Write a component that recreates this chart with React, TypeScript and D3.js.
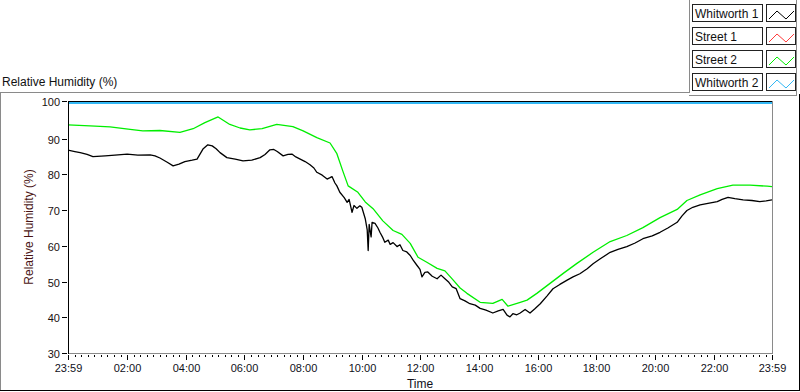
import React, { useEffect, useRef } from 'react';
import * as d3 from 'd3';

// minutes after midnight, -1 = 23:59 of the previous day
const street2Times = [-1, 44, 85, 126, 152, 187, 228, 255, 279, 306, 330, 351, 371, 396, 426, 459, 480, 508, 535, 549, 561, 572, 592, 607, 623, 643, 664, 682, 699, 715, 733, 754, 770, 787, 801, 815, 842, 868, 887, 899, 924, 938, 958, 985, 1012, 1040, 1073, 1108, 1142, 1175, 1210, 1245, 1265, 1292, 1327, 1359, 1394, 1429, 1439];
const street2Values = [93.9, 93.6, 93.3, 92.6, 92.2, 92.3, 91.8, 92.8, 94.5, 96.1, 94.0, 93.0, 92.5, 92.8, 94.0, 93.4, 92.2, 90.3, 88.8, 85.8, 81.0, 76.8, 75.0, 72.3, 70.4, 67.0, 64.3, 63.2, 60.7, 56.8, 55.4, 53.7, 53.0, 50.4, 48.2, 46.7, 44.2, 43.9, 45.0, 43.1, 44.2, 44.8, 46.7, 49.5, 52.3, 55.1, 58.2, 61.2, 62.9, 65.1, 67.9, 70.2, 72.7, 74.3, 76.0, 77.0, 77.0, 76.7, 76.6];

const whitworth1Times = [-1, 13, 24, 38, 50, 75, 95, 120, 142, 167, 177, 187, 202, 214, 226, 238, 253, 263, 275, 285, 294, 302, 310, 324, 341, 357, 375, 392, 402, 412, 420, 427, 439, 449, 457, 465, 474, 484, 494, 502, 508, 519, 529, 535, 539, 545, 549, 555, 564, 570, 574, 580, 584, 590, 596, 600, 607, 611, 613, 615, 619, 621, 627, 633, 637, 643, 647, 654, 658, 664, 672, 678, 684, 692, 699, 705, 713, 719, 723, 729, 735, 744, 754, 762, 770, 778, 785, 793, 801, 811, 821, 832, 842, 854, 868, 879, 889, 897, 903, 909, 917, 924, 934, 944, 954, 965, 979, 991, 1005, 1020, 1032, 1046, 1061, 1073, 1087, 1108, 1124, 1142, 1159, 1175, 1194, 1210, 1226, 1245, 1255, 1265, 1277, 1292, 1308, 1327, 1337, 1349, 1363, 1380, 1398, 1414, 1427, 1439];
const whitworth1Values = [86.8, 86.4, 86.1, 85.6, 85.0, 85.2, 85.4, 85.7, 85.4, 85.5, 85.2, 84.6, 83.4, 82.4, 82.9, 83.6, 84.0, 84.3, 87.1, 88.3, 88.0, 87.2, 86.1, 84.7, 84.3, 83.8, 84.0, 84.7, 85.6, 86.9, 87.0, 86.4, 85.2, 85.6, 85.7, 84.9, 84.3, 83.6, 82.7, 81.8, 80.6, 79.8, 78.7, 79.1, 79.4, 77.6, 76.8, 75.0, 73.5, 72.2, 73.0, 69.4, 71.3, 70.5, 71.2, 70.8, 67.6, 64.5, 58.7, 66.0, 62.5, 66.6, 66.3, 65.0, 63.8, 62.3, 61.0, 61.6, 60.4, 60.9, 59.8, 60.3, 58.7, 58.3, 57.3, 56.0, 54.5, 53.4, 51.3, 52.6, 52.7, 51.5, 50.8, 51.8, 50.8, 49.8, 48.5, 48.0, 45.2, 44.6, 43.8, 43.4, 42.5, 42.0, 41.2, 41.8, 42.2, 40.6, 40.1, 41.0, 40.7, 41.2, 42.2, 41.2, 42.4, 43.8, 46.0, 48.0, 49.2, 50.4, 51.3, 52.2, 53.6, 55.0, 56.3, 58.2, 59.0, 59.8, 60.8, 62.0, 62.8, 63.8, 65.0, 66.6, 68.4, 69.9, 70.8, 71.5, 71.9, 72.4, 73.0, 73.6, 73.2, 72.9, 72.7, 72.4, 72.6, 72.9];

// Whitworth 2 sits on the top edge of the plot
const whitworth2Times = [-1, 1439];
const whitworth2Values = [100, 100];

const legendNames = ['Whitworth 1', 'Street 1', 'Street 2', 'Whitworth 2'];
const legendColors = ['#000000', '#ff3b3b', '#00ee00', '#33b8f5'];

const majorTicks = [-1, 120, 240, 360, 480, 600, 720, 840, 960, 1080, 1200, 1320, 1439];
const yTicks = [30, 40, 50, 60, 70, 80, 90, 100];

const FONT = '"Liberation Sans", Arial, sans-serif';

const fmtTime = (m: number) => {
  if (m < 0) return '23:59';
  const h = Math.floor(m / 60);
  const mm = m % 60;
  return `${String(h).padStart(2, '0')}:${String(mm).padStart(2, '0')}`;
};

export default function App() {
  const svgRef = useRef<SVGSVGElement>(null);

  useEffect(() => {
    document.body.style.margin = '0';
    if (!svgRef.current) return;
    const svg = d3.select(svgRef.current);
    svg.selectAll('*').remove();

    const plot = { left: 68, right: 772, top: 101, bottom: 353 };

    const x = d3.scaleLinear().domain([-1, 1439]).range([plot.left, plot.right]);
    const y = d3.scaleLinear().domain([30, 100]).range([plot.bottom, plot.top + 2]);

    // panel frames
    const frame = svg.append('g').attr('fill', 'none').attr('shape-rendering', 'crispEdges');
    frame.append('path').attr('d', 'M0.5,391V92.5H689.5V0').attr('stroke', '#8a8a8a');
    frame.append('path').attr('d', 'M689,95.5H796.5V0').attr('stroke', '#8a8a8a');
    frame.append('path').attr('d', 'M0,390.5H799.5V94').attr('stroke', '#000');

    // title
    svg.append('text')
      .attr('x', 2).attr('y', 86)
      .attr('font-family', FONT).attr('font-size', 12)
      .attr('fill', '#111')
      .text('Relative Humidity (%)');

    // legend
    const legend = svg.append('g');
    legendNames.forEach((name, i) => {
      const top = 4 + i * 23;
      legend.append('rect')
        .attr('x', 692.5).attr('y', top + 0.5).attr('width', 70).attr('height', 17)
        .attr('fill', '#fff').attr('stroke', '#222').attr('shape-rendering', 'crispEdges');
      legend.append('text')
        .attr('x', 695).attr('y', top + 13.5)
        .attr('font-family', FONT).attr('font-size', 12).attr('fill', '#111')
        .text(name);
      legend.append('rect')
        .attr('x', 766.5).attr('y', top + 0.5).attr('width', 29).attr('height', 17)
        .attr('fill', '#fff').attr('stroke', '#222').attr('shape-rendering', 'crispEdges');
      legend.append('path')
        .attr('d', `M769,${top + 15}L777,${top + 7}L786,${top + 15}L794,${top + 7}`)
        .attr('fill', 'none').attr('stroke', legendColors[i]).attr('stroke-width', 1);
    });

    // clip
    svg.append('defs').append('clipPath').attr('id', 'plot-clip')
      .append('rect')
      .attr('x', plot.left).attr('y', plot.top + 1)
      .attr('width', plot.right - plot.left).attr('height', plot.bottom - plot.top - 1);

    const line = d3.line<[number, number]>()
      .x(d => x(d[0]))
      .y(d => y(d[1]));

    const series = [
      { times: whitworth2Times, values: whitworth2Values, color: legendColors[3], width: 2.2 },
      { times: whitworth1Times, values: whitworth1Values, color: legendColors[0], width: 1.3 },
      { times: street2Times, values: street2Values, color: legendColors[2], width: 1.3 },
    ];

    const lines = svg.append('g').attr('clip-path', 'url(#plot-clip)');
    series.forEach(s => {
      const pts = s.times.map((t, i) => [t, s.values[i]] as [number, number]);
      lines.append('path')
        .attr('d', line(pts)!)
        .attr('fill', 'none')
        .attr('stroke', s.color)
        .attr('stroke-width', s.width)
        .attr('stroke-linejoin', 'round');
    });

    // plot borders
    const border = svg.append('g').attr('shape-rendering', 'crispEdges').attr('fill', 'none');
    border.append('line')
      .attr('x1', plot.left).attr('x2', plot.right + 0.5)
      .attr('y1', plot.top + 0.5).attr('y2', plot.top + 0.5)
      .attr('stroke', '#000');
    border.append('path')
      .attr('d', `M${plot.left},${plot.bottom + 0.5}H${plot.right + 0.5}V${plot.top}`)
      .attr('stroke', '#8a8a8a');
    border.append('line')
      .attr('x1', plot.left + 0.5).attr('x2', plot.left + 0.5)
      .attr('y1', plot.top).attr('y2', plot.bottom + 1)
      .attr('stroke', '#000');

    // y axis
    const yAxis = svg.append('g');
    yTicks.forEach(v => {
      const yy = v === 100 ? plot.top + 0.5 : Math.round(y(v)) + 0.5;
      yAxis.append('line')
        .attr('x1', 62).attr('x2', 67).attr('y1', yy).attr('y2', yy)
        .attr('stroke', '#000').attr('shape-rendering', 'crispEdges');
      yAxis.append('text')
        .attr('x', 60).attr('y', yy + 4)
        .attr('text-anchor', 'end')
        .attr('font-family', FONT).attr('font-size', 11).attr('fill', '#1a1010')
        .text(v);
    });

    // x axis: majors and 8 minors between each pair
    const xAxis = svg.append('g').attr('shape-rendering', 'crispEdges');
    majorTicks.forEach((m, i) => {
      const xx = Math.round(x(m)) + 0.5;
      xAxis.append('line')
        .attr('x1', xx).attr('x2', xx).attr('y1', 355).attr('y2', 360)
        .attr('stroke', '#000');
      xAxis.append('text')
        .attr('x', xx).attr('y', 372)
        .attr('text-anchor', 'middle')
        .attr('font-family', FONT).attr('font-size', 11).attr('fill', '#10101a')
        .text(fmtTime(m));
      if (i < majorTicks.length - 1) {
        const next = majorTicks[i + 1];
        d3.range(1, 9).forEach(k => {
          const mx = Math.round(x(m + ((next - m) * k) / 9)) + 0.5;
          xAxis.append('line')
            .attr('x1', mx).attr('x2', mx).attr('y1', 355).attr('y2', 357)
            .attr('stroke', '#000');
        });
      }
    });

    // axis names
    svg.append('text')
      .attr('x', (plot.left + plot.right) / 2).attr('y', 388)
      .attr('text-anchor', 'middle')
      .attr('font-family', FONT).attr('font-size', 12).attr('fill', '#10101a')
      .text('Time');

    svg.append('text')
      .attr('transform', `translate(33, ${(plot.top + plot.bottom) / 2}) rotate(-90)`)
      .attr('text-anchor', 'middle')
      .attr('font-family', FONT).attr('font-size', 12).attr('fill', '#4a1414')
      .text('Relative Humidity (%)');
  }, []);

  return (
    <svg
      ref={svgRef}
      width={800}
      height={392}
      style={{ display: 'block', background: '#fff' }}
    />
  );
}
